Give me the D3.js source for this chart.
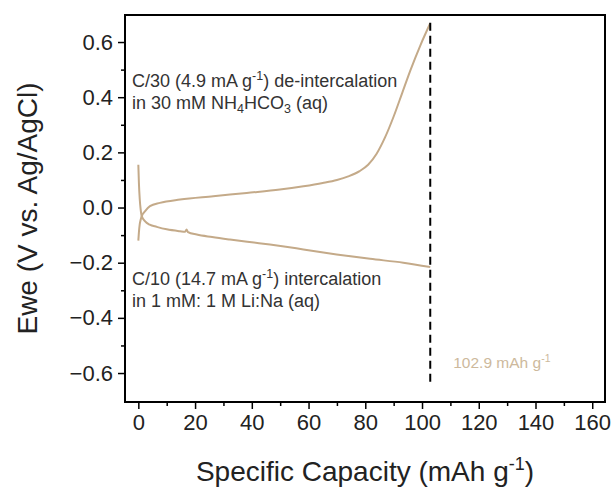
<!DOCTYPE html>
<html lang="en">
<head>
  <meta charset="UTF-8">
  <title>Ewe vs Specific Capacity</title>
  <script src="https://d3js.org/d3.v7.min.js"></script>
  <style>
    body { margin: 0; background: #fff; }
    svg { font-family: "Liberation Sans", Arial, sans-serif; }
    .tick text { font-size: 22px; fill: #222; }
    .note { font-size: 18px; fill: #333; }
  </style>
</head>
<body>
<svg width="613" height="487"></svg>
<script>
  // intercalation, C/10 (lower branch)
  const capIn = [0, 0.2, 0.5, 0.8, 1.2, 2.4, 4, 6.5, 10, 14.7, 16.5, 17, 17.5, 20.6, 26, 32.3, 40, 46.4, 52, 58.2, 69.9, 81.7, 93.4, 102.9];
  const eweIn = [0.155, 0.09, 0.03, -0.005, -0.031, -0.05, -0.062, -0.07, -0.079, -0.086, -0.088, -0.08, -0.089, -0.098, -0.107, -0.116, -0.126, -0.134, -0.142, -0.152, -0.17, -0.186, -0.2, -0.216];

  // de-intercalation, C/30 (upper branch)
  const capOut = [0, 0.2, 0.5, 0.8, 1.2, 2.4, 4.1, 7.6, 14.7, 26.4, 38.2, 49.9, 58.2, 65, 70, 74, 78, 81, 84, 87, 90, 93, 96, 99.5, 102.9];
  const eweOut = [-0.12, -0.09, -0.06, -0.045, -0.031, -0.013, 0.005, 0.017, 0.029, 0.041, 0.053, 0.065, 0.077, 0.089, 0.1, 0.113, 0.132, 0.155, 0.195, 0.255, 0.33, 0.415, 0.5, 0.59, 0.668];

  const capacityMark = 102.9;
  const markRange = [-0.64, 0.67];

  const xTicks = [0, 20, 40, 60, 80, 100, 120, 140, 160];
  const yTicks = [-0.6, -0.4, -0.2, 0.0, 0.2, 0.4, 0.6];

  const tan = "#c4aa89";

  const svg = d3.select("svg");
  const margin = { top: 15, right: 8, bottom: 85, left: 125 };
  const width = +svg.attr("width") - margin.left - margin.right;
  const height = +svg.attr("height") - margin.top - margin.bottom;

  const g = svg.append("g").attr("transform", `translate(${margin.left},${margin.top})`);

  const x = d3.scaleLinear().domain([-4.7, 164.5]).range([0, width]);
  const y = d3.scaleLinear().domain([-0.705, 0.698]).range([height, 0]);

  // minor ticks
  g.append("g")
    .attr("transform", `translate(0,${height})`)
    .call(d3.axisBottom(x).tickValues(d3.range(10, 170, 20)).tickSize(4).tickFormat(""))
    .call(s => s.select(".domain").remove())
    .selectAll("line").attr("stroke-width", 1.5);
  g.append("g")
    .call(d3.axisLeft(y).tickValues([-0.5, -0.3, -0.1, 0.1, 0.3, 0.5]).tickSize(4).tickFormat(""))
    .call(s => s.select(".domain").remove())
    .selectAll("line").attr("stroke-width", 1.5);

  // major ticks
  const xAxis = g.append("g")
    .attr("transform", `translate(0,${height})`)
    .call(d3.axisBottom(x).tickValues(xTicks).tickSize(7).tickPadding(5).tickFormat(d3.format("d")));
  xAxis.select(".domain").remove();
  xAxis.selectAll("line").attr("stroke-width", 1.5);

  const yAxis = g.append("g")
    .call(d3.axisLeft(y).tickValues(yTicks).tickSize(7).tickPadding(5).tickFormat(d3.format(".1f")));
  yAxis.select(".domain").remove();
  yAxis.selectAll("line").attr("stroke-width", 1.5);

  // frame
  g.append("rect")
    .attr("width", width).attr("height", height)
    .attr("fill", "none").attr("stroke", "#000").attr("stroke-width", 2);

  const line = d3.line()
    .x(d => x(d[0]))
    .y(d => y(d[1]))
    .curve(d3.curveMonotoneX);

  g.append("path")
    .datum(d3.zip(capIn, eweIn))
    .attr("d", line)
    .attr("fill", "none").attr("stroke", tan).attr("stroke-width", 2);

  g.append("path")
    .datum(d3.zip(capOut, eweOut))
    .attr("d", line)
    .attr("fill", "none").attr("stroke", tan).attr("stroke-width", 2);

  // capacity marker
  g.append("line")
    .attr("x1", x(capacityMark)).attr("x2", x(capacityMark))
    .attr("y1", y(markRange[1])).attr("y2", y(markRange[0]))
    .attr("stroke", "#000").attr("stroke-width", 2)
    .attr("stroke-dasharray", "8,5");

  const capLabel = g.append("text")
    .attr("x", x(capacityMark) + 23).attr("y", 352.5)
    .attr("fill", "#cdb99c").style("font-size", "15.5px");
  capLabel.append("tspan").text("102.9 mAh g");
  capLabel.append("tspan").attr("dy", -6).style("font-size", "10.5px").text("-1");

  // annotations
  function note(lines, yy) {
    const t = g.append("text").attr("class", "note");
    lines.forEach((parts, i) => {
      let first = true;
      parts.forEach(p => {
        const ts = t.append("tspan").text(p[0]);
        if (first) { ts.attr("x", 7).attr("y", yy + i * 21.5); first = false; }
        if (p[1] === "sup") ts.style("font-size", "12.5px").attr("dy", -7);
        if (p[1] === "sub") ts.style("font-size", "12.5px").attr("dy", 4);
        if (p[1] === "back") ts.attr("dy", 7);
        if (p[1] === "up") ts.attr("dy", -4);
      });
    });
  }

  note([
    [["C/30 (4.9 mA g"], ["-1", "sup"], [") de-intercalation", "back"]],
    [["in 30 mM NH"], ["4", "sub"], ["HCO", "up"], ["3", "sub"], [" (aq)", "up"]]
  ], 72);

  note([
    [["C/10 (14.7 mA g"], ["-1", "sup"], [") intercalation", "back"]],
    [["in 1 mM: 1 M Li:Na (aq)"]]
  ], 270);

  // axis titles
  const xt = svg.append("text")
    .attr("x", margin.left + width / 2).attr("y", 481)
    .attr("text-anchor", "middle").style("font-size", "28px").attr("fill", "#222");
  xt.append("tspan").text("Specific Capacity (mAh g");
  xt.append("tspan").attr("dy", -11).style("font-size", "18px").text("-1");
  xt.append("tspan").attr("dy", 11).text(")");

  svg.append("text")
    .attr("transform", `translate(37,${margin.top + height / 2}) rotate(-90)`)
    .attr("text-anchor", "middle").style("font-size", "28px").attr("fill", "#222")
    .text("Ewe (V vs. Ag/AgCl)");
</script>
</body>
</html>
